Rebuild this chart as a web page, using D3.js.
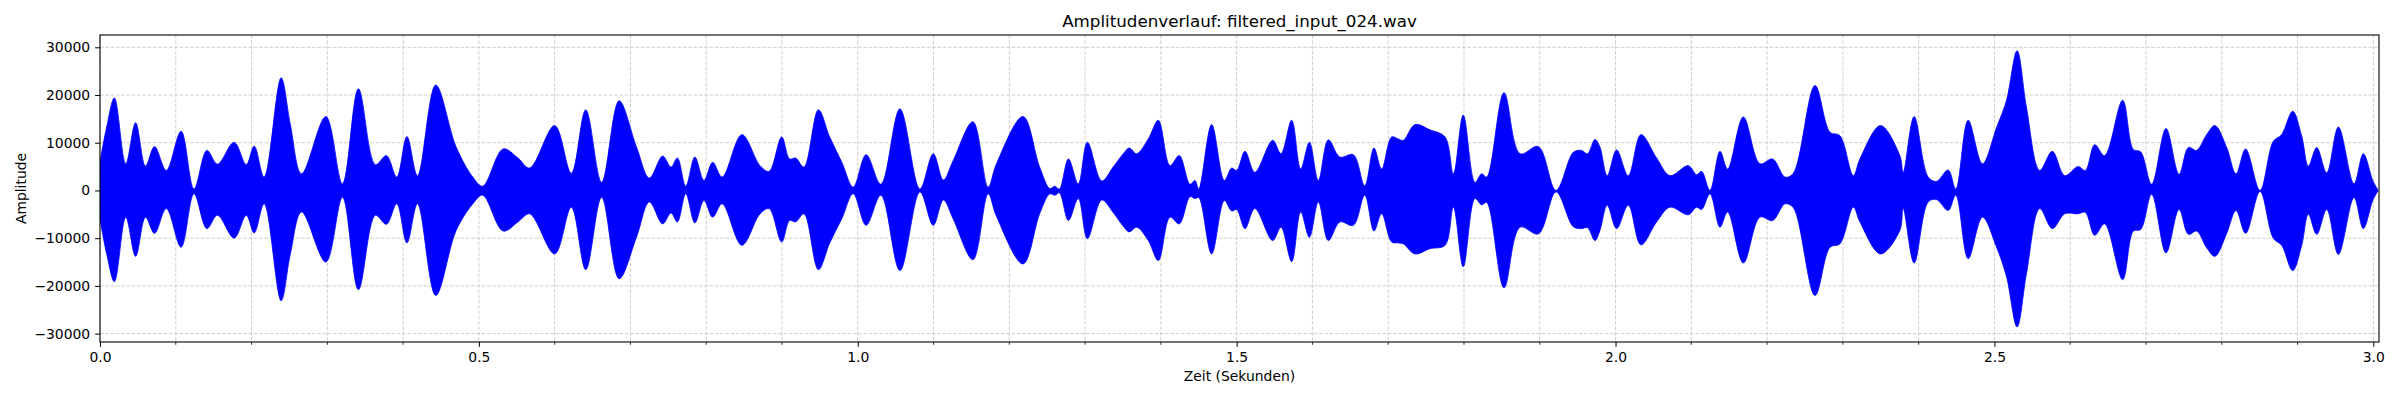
<!DOCTYPE html>
<html>
<head>
<meta charset="utf-8">
<script src="https://cdn.jsdelivr.net/npm/d3@7"></script>
<style>
body{margin:0;background:#fff;}
</style>
</head>
<body>
<div id="wave"></div>
<script>

// Huellkurve des Signals (Zeit in s, Amplitude oben / unten)
let zeit = [
    0.000, 0.0088, 0.019, 0.034, 0.047, 0.060, 0.072, 0.0875, 0.107, 0.124,
    0.141, 0.155, 0.177, 0.193, 0.2035, 0.2166, 0.239, 0.251, 0.266, 0.298,
    0.320, 0.341, 0.3634, 0.378, 0.3916, 0.405, 0.419, 0.443, 0.470, 0.492,
    0.505, 0.532, 0.5516, 0.567, 0.600, 0.622, 0.641, 0.662, 0.685, 0.708,
    0.725, 0.7425, 0.7535, 0.762, 0.773, 0.785, 0.797, 0.8085, 0.821, 0.847,
    0.871, 0.883, 0.8996, 0.910, 0.918, 0.929, 0.948, 0.963, 0.979, 0.994,
    1.011, 1.0305, 1.0556, 1.082, 1.0996, 1.113, 1.126, 1.152, 1.172, 1.183,
    1.218, 1.240, 1.2535, 1.260, 1.266, 1.278, 1.291, 1.303, 1.322, 1.337,
    1.3504, 1.3583, 1.368, 1.3834, 1.3966, 1.412, 1.4243, 1.4384, 1.445, 1.450,
    1.467, 1.4837, 1.4934, 1.500, 1.511, 1.524, 1.5475, 1.5585, 1.5726, 1.5845,
    1.596, 1.6078, 1.621, 1.6363, 1.654, 1.669, 1.6812, 1.6913, 1.7045, 1.7133,
    1.720, 1.7353, 1.7551, 1.775, 1.786, 1.799, 1.8145, 1.8233, 1.830, 1.8528,
    1.874, 1.8981, 1.9214, 1.9443, 1.955, 1.963, 1.9729, 1.9794, 1.989, 2.0014,
    2.0168, 2.0335, 2.0542, 2.0718, 2.096, 2.107, 2.1136, 2.1246, 2.1378, 2.1479,
    2.1686, 2.1906, 2.2073, 2.2236, 2.2346, 2.2632, 2.283, 2.296, 2.3138, 2.3225,
    2.3497, 2.3752, 2.3796, 2.394, 2.4126, 2.4235, 2.439, 2.449, 2.4653, 2.4842,
    2.5026, 2.5158, 2.5299, 2.5422, 2.5598, 2.5764, 2.5927, 2.6103, 2.620, 2.6323,
    2.6454, 2.6692, 2.6833, 2.693, 2.7075, 2.7264, 2.7436, 2.756, 2.7669, 2.780,
    2.791, 2.8065, 2.8188, 2.8315, 2.8505, 2.868, 2.879, 2.8936, 2.9055, 2.9143,
    2.9253, 2.9385, 2.9539, 2.9745, 2.9868, 2.9995, 3.0066
];
let oben = [
    6000, 13300, 19400, 5600, 14200, 5100, 9200, 4200, 12400, 300,
    8400, 5500, 10100, 5400, 9300, 2800, 23600, 14000, 3500, 15500,
    1400, 21300, 5400, 7300, 2800, 11300, 3100, 22100, 9100, 2800,
    900, 8700, 6800, 4700, 13600, 3600, 16900, 1700, 18800, 9100,
    2600, 7200, 4900, 6800, 900, 7000, 2100, 5900, 2800, 11700,
    5200, 4000, 11200, 6600, 6800, 4900, 16900, 11200, 5900, 700,
    7500, 1300, 17100, 300, 7700, 2200, 6300, 14400, 700, 5600,
    15500, 4900, 400, 900, 300, 6600, 1400, 10100, 2000, 4900,
    7700, 8900, 7700, 10800, 14700, 5200, 7300, 1300, 2100, 300,
    13800, 2100, 4700, 4200, 8200, 3800, 10500, 7700, 14700, 4500,
    10100, 2100, 10600, 7000, 7500, 1000, 8900, 4500, 11200, 10800,
    10500, 13800, 12700, 11200, 3500, 15800, 1700, 3500, 2800, 20500,
    7700, 9200, 0, 8000, 8400, 7700, 10700, 9100, 3100, 8500,
    3100, 11700, 6800, 3100, 5200, 3300, 4000, 0, 8200, 4500,
    15400, 5600, 6600, 2800, 3600, 22000, 12200, 11500, 3100, 6600,
    13600, 7300, 3800, 15500, 2800, 1900, 4300, 300, 14700, 5600,
    13100, 18800, 29300, 17500, 4200, 8200, 3100, 5000, 4200, 9600,
    7300, 18900, 8600, 8100, 1300, 13000, 3400, 9000, 8400, 11700,
    13600, 9000, 3500, 8700, 0, 10300, 11700, 16600, 11400, 5100,
    9000, 3700, 13300, 1400, 7700, 2000, 0
];
let unten = [
    -6000, -13300, -19100, -5600, -13800, -5600, -9000, -3800, -11900, -700,
    -8000, -5200, -10000, -5200, -8900, -2800, -23100, -13500, -4500, -15000,
    -1400, -20800, -5200, -7100, -2800, -11000, -2800, -22000, -8400, -2800,
    -1000, -8500, -6600, -4900, -13300, -3500, -16600, -1400, -18500, -9800,
    -2400, -7000, -4700, -6600, -700, -6800, -2100, -5600, -2800, -11500,
    -4900, -3800, -10800, -6300, -6600, -4900, -16600, -11000, -5900, -700,
    -7300, -1000, -16800, -300, -7300, -2000, -6000, -14500, -700, -5400,
    -15400, -4900, -700, -1000, -500, -6300, -1700, -10100, -2000, -4600,
    -7500, -8700, -7700, -10500, -14700, -5600, -7000, -1300, -1700, -1500,
    -13300, -2100, -4300, -4000, -8000, -3800, -10500, -7700, -14900, -4500,
    -9800, -2400, -10500, -6600, -7300, -1000, -8500, -4900, -10800, -11000,
    -11200, -13300, -12200, -11500, -3500, -16000, -1700, -3000, -2500, -20400,
    -7700, -9100, -300, -7600, -8000, -7800, -10500, -8400, -3100, -8000,
    -3100, -11400, -6600, -3500, -5100, -3500, -4000, -700, -7700, -4500,
    -15200, -5600, -6300, -2800, -3600, -22000, -11900, -11200, -3500, -6600,
    -13300, -8400, -3800, -15200, -2400, -1900, -4200, -1000, -14300, -5600,
    -11800, -18000, -28600, -17500, -3800, -8000, -4900, -4900, -4600, -9400,
    -7000, -18700, -8500, -8200, -800, -13100, -4000, -9200, -8500, -12000,
    -13800, -9000, -4200, -9000, -200, -10000, -11500, -16800, -11500, -5000,
    -9200, -4000, -13400, -1500, -8000, -2000, 0
];

let xTicks = [0.0, 0.5, 1.0, 1.5, 2.0, 2.5, 3.0];
let xMinor = [0.1, 0.2, 0.3, 0.4, 0.6, 0.7, 0.8, 0.9, 1.1, 1.2, 1.3, 1.4,
              1.6, 1.7, 1.8, 1.9, 2.1, 2.2, 2.3, 2.4, 2.6, 2.7, 2.8, 2.9];
let yTicks = [-30000, -20000, -10000, 0, 10000, 20000, 30000];

let larg = 2400;
let alt = 400;
let links = 100, rechts = 2379, oberkante = 35, unterkante = 342;

let canvas = d3.select("#wave")
                .append("svg")
                .attr("width", larg)
                .attr("height", alt)
                .style("font-family", "'DejaVu Sans', sans-serif");

var escalaX = d3.scaleLinear()
                .domain([0, 3.0075])
                .range([links, rechts]);

var escalaY = d3.scaleLinear()
                .domain([-31760, 32580])
                .range([unterkante, oberkante]);

// Gitter (gestrichelt, hinter dem Signal)
var gitter = canvas.append("g")
                .attr("stroke", "#cfcfcf")
                .attr("stroke-width", 1)
                .attr("stroke-dasharray", "3.7,1.6");

gitter.selectAll(".gx")
    .data(xTicks.concat(xMinor))
    .enter()
        .append("line")
        .attr("x1", d => escalaX(d))
        .attr("x2", d => escalaX(d))
        .attr("y1", oberkante)
        .attr("y2", unterkante);

gitter.selectAll(".gy")
    .data(yTicks)
    .enter()
        .append("line")
        .attr("x1", links)
        .attr("x2", rechts)
        .attr("y1", d => escalaY(d))
        .attr("y2", d => escalaY(d));

canvas.append("clipPath")
        .attr("id", "clip")
        .append("rect")
        .attr("x", links)
        .attr("y", oberkante)
        .attr("width", rechts - links)
        .attr("height", unterkante - oberkante);

let punkte = zeit.map((t, i) => ({t: t, hi: oben[i], lo: unten[i]}));

// Catmull-Rom statt monoton: spitzere Einschnuerungen wie im Original
let flaeche = d3.area()
            .x(d => escalaX(d.t))
            .y0(d => escalaY(d.lo))
            .y1(d => escalaY(d.hi))
            .curve(d3.curveCatmullRom.alpha(0.5));

canvas.append("path")
    .datum(punkte)
    .attr("clip-path", "url(#clip)")
    .attr("d", flaeche)
    .attr("fill", "#0000ff")
    .attr("stroke", "#0000ff")
    .attr("stroke-width", 0.8);

// Achsen
var achseX = d3.axisBottom(escalaX)
            .tickValues(xTicks)
            .tickFormat(d3.format(".1f"))
            .tickSize(4.9)
            .tickPadding(4.9);

var gx = canvas.append("g")
        .attr("transform", "translate(0," + unterkante + ")")
        .style("font", "13.9px 'DejaVu Sans', sans-serif")
        .call(achseX);

gx.selectAll(".minor")
    .data(xMinor)
    .enter()
        .append("line")
        .attr("class", "minor")
        .attr("x1", d => escalaX(d))
        .attr("x2", d => escalaX(d))
        .attr("y1", 0)
        .attr("y2", 2.8)
        .attr("stroke", "black")
        .attr("stroke-width", 0.8);

var achseY = d3.axisLeft(escalaY)
            .tickValues(yTicks)
            .tickFormat(d => d < 0 ? "\u2212" + Math.abs(d) : d)
            .tickSize(4.9)
            .tickPadding(4.9);

var gy = canvas.append("g")
        .attr("transform", "translate(" + links + ",0)")
        .style("font", "13.9px 'DejaVu Sans', sans-serif")
        .call(achseY);

canvas.selectAll(".domain").remove();
canvas.selectAll(".tick line").attr("stroke-width", 1);
canvas.selectAll(".tick text").attr("fill", "black");

canvas.append("rect")
    .attr("x", links)
    .attr("y", oberkante)
    .attr("width", rechts - links)
    .attr("height", unterkante - oberkante)
    .attr("fill", "none")
    .attr("stroke", "black")
    .attr("stroke-width", 1.1);

// Beschriftung
canvas.append("text")
    .attr("x", (links + rechts) / 2)
    .attr("y", 27)
    .attr("text-anchor", "middle")
    .style("font-size", "16.7px")
    .text("Amplitudenverlauf: filtered_input_024.wav");

canvas.append("text")
    .attr("x", (links + rechts) / 2)
    .attr("y", 381)
    .attr("text-anchor", "middle")
    .style("font-size", "13.9px")
    .text("Zeit (Sekunden)");

canvas.append("text")
    .attr("transform", "translate(26," + (oberkante + unterkante) / 2 + ") rotate(-90)")
    .attr("text-anchor", "middle")
    .style("font-size", "13.9px")
    .text("Amplitude");

</script>
</body>
</html>
